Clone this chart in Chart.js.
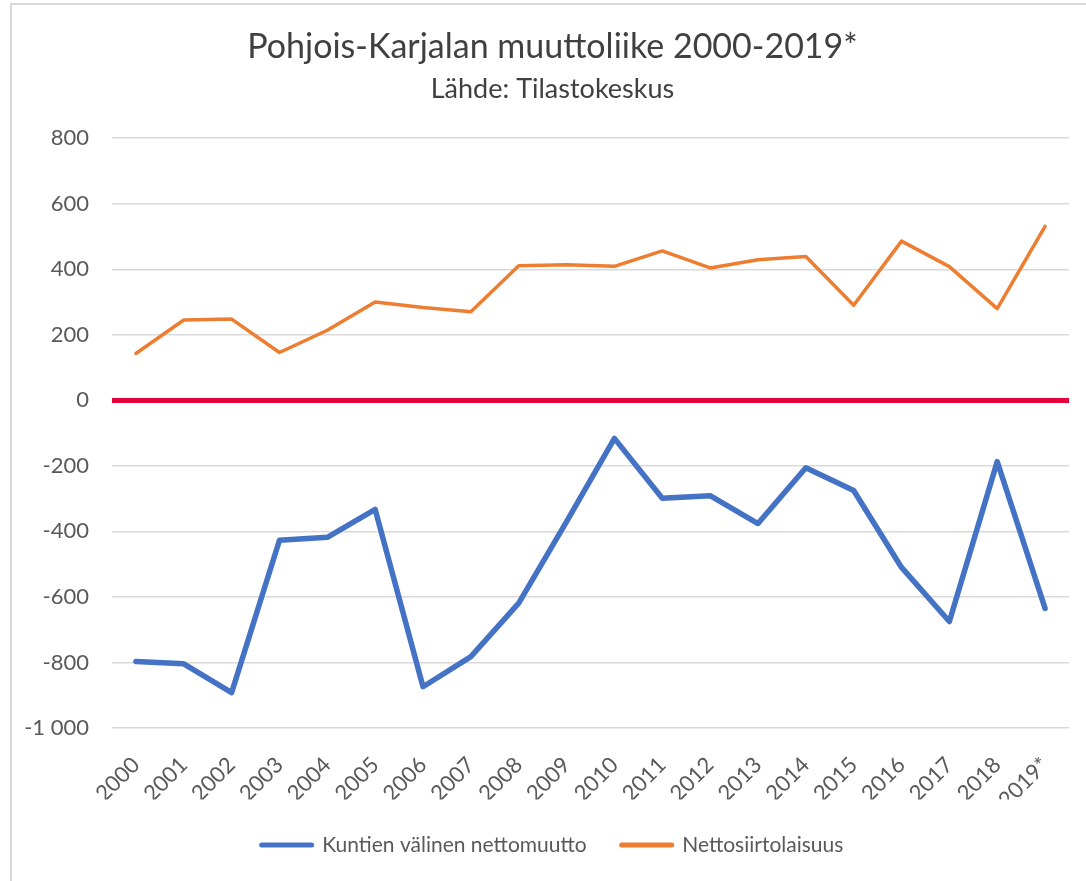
<!DOCTYPE html>
<html>
<head>
<meta charset="utf-8">
<script src="https://cdn.jsdelivr.net/npm/chart.js@4/dist/chart.umd.min.js"></script>
<style>
  html, body { margin: 0; padding: 0; background: #ffffff; }
  #frame { position: absolute; left: 10px; top: 3px; width: 1200px; height: 1000px;
           border-left: 2px solid #d9d9d9; border-top: 2px solid #d9d9d9; }
  #wrap { position: absolute; left: 0; top: 0; width: 1086px; height: 881px; }
</style>
</head>
<body>
<div id="frame"></div>
<div id="wrap"><canvas id="c" width="1086" height="881"></canvas></div>
<script>
const titleText = 'Pohjois-Karjalan muuttoliike 2000-2019*';
const subtitleText = 'Lähde: Tilastokeskus';
const years = ['2000','2001','2002','2003','2004','2005','2006','2007','2008','2009',
               '2010','2011','2012','2013','2014','2015','2016','2017','2018','2019*'];
const seriesNames = ['Kuntien välinen nettomuutto', 'Nettosiirtolaisuus'];
const kuntienValinen = [-797, -804, -892, -427, -418, -333, -874, -782, -619, -370,
                        -116, -299, -291, -376, -206, -275, -510, -675, -187, -635];
const nettosiirto = [143, 245, 248, 146, 214, 300, 283, 270, 411, 414,
                     409, 456, 404, 429, 439, 290, 486, 408, 280, 531];
const yMin = -1000, yMax = 800, yStep = 200;

const FONT = "Lato, 'Open Sans', sans-serif";
const textColor = '#595959';

new Chart(document.getElementById('c'), {
  type: 'line',
  data: {
    labels: years,
    datasets: [
      { label: seriesNames[0], data: kuntienValinen, borderColor: '#4472C4', backgroundColor: '#4472C4',
        borderWidth: 5.5, pointRadius: 0, tension: 0, borderCapStyle: 'round', borderJoinStyle: 'round' },
      { label: seriesNames[1], data: nettosiirto, borderColor: '#ED7D31', backgroundColor: '#ED7D31',
        borderWidth: 3.5, pointRadius: 0, tension: 0, borderCapStyle: 'round', borderJoinStyle: 'round' }
    ]
  },
  options: {
    responsive: false,
    animation: false,
    layout: { padding: { left: 36, right: 17, top: 0, bottom: 15.5 } },
    plugins: {
      title: { display: true, text: titleText, color: '#404040',
               font: { family: FONT, size: 34, weight: 'normal' }, padding: { top: 27, bottom: 2 } },
      subtitle: { display: true, text: subtitleText, color: '#404040',
               font: { family: FONT, size: 27, weight: 'normal' }, padding: { top: 3, bottom: 33 } },
      legend: { position: 'bottom',
               labels: { color: textColor, font: { family: FONT, size: 21 },
                         boxWidth: 50, boxHeight: 0, padding: 35,
                         generateLabels: (chart) => Chart.defaults.plugins.legend.labels.generateLabels(chart)
                           .map(it => Object.assign(it, { lineWidth: 5, lineCap: 'round' })) } },
      tooltip: { enabled: false }
    },
    scales: {
      x: {
        offset: true,
        grid: { display: false },
        border: { display: false },
        ticks: { color: textColor, font: { family: FONT, size: 22 }, minRotation: 45, maxRotation: 45, padding: 16, autoSkip: false },
        afterFit: (s) => { s.height = 71.5; }
      },
      y: {
        min: yMin, max: yMax,
        border: { display: false },
        grid: {
          drawTicks: false,
          color: (ctx) => ctx.tick && ctx.tick.value === 0 ? '#E4003B' : '#d9d9d9',
          lineWidth: (ctx) => ctx.tick && ctx.tick.value === 0 ? 5 : 1.5
        },
        ticks: { stepSize: yStep, color: textColor, font: { family: FONT, size: 22 }, padding: 23,
                 callback: (v) => { const s = Math.abs(v).toString().replace(/\B(?=(\d{3})+(?!\d))/g, ' ');
                                    return (v < 0 ? '-' : '') + s; } },
        afterFit: (s) => { s.width = 76; s._computeLabelArea = () => undefined; }
      }
    }
  }
});
</script>
</body>
</html>
